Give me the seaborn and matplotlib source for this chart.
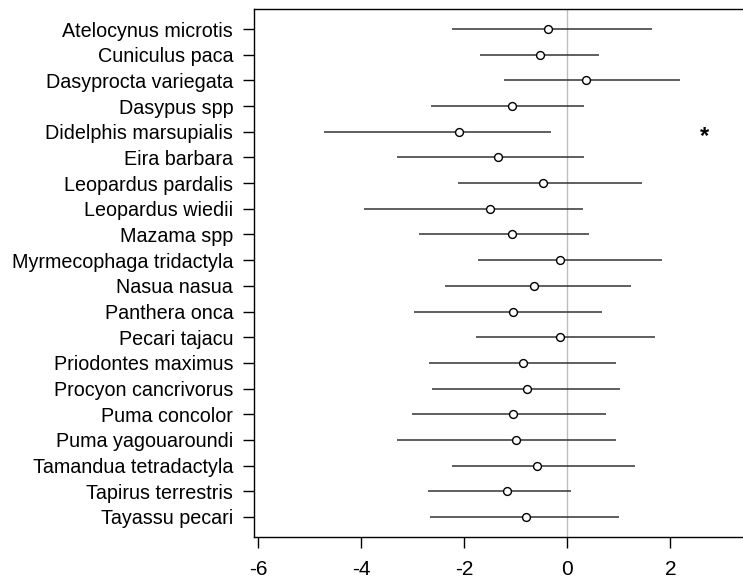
import matplotlib
matplotlib.use("Agg")
import matplotlib.pyplot as plt
import numpy as np
import pandas as pd
import seaborn as sns

species = [
    "Atelocynus microtis", "Cuniculus paca", "Dasyprocta variegata", "Dasypus spp",
    "Didelphis marsupialis", "Eira barbara", "Leopardus pardalis", "Leopardus wiedii",
    "Mazama spp", "Myrmecophaga tridactyla", "Nasua nasua", "Panthera onca",
    "Pecari tajacu", "Priodontes maximus", "Procyon cancrivorus", "Puma concolor",
    "Puma yagouaroundi", "Tamandua tetradactyla", "Tapirus terrestris", "Tayassu pecari",
]
estimate = [-0.38, -0.53, 0.36, -1.07, -2.10, -1.34, -0.48, -1.49, -1.07, -0.14,
            -0.65, -1.06, -0.15, -0.85, -0.79, -1.05, -1.00, -0.58, -1.17, -0.81]
lower = [-2.23, -1.69, -1.23, -2.65, -4.72, -3.30, -2.12, -3.95, -2.87, -1.73,
         -2.37, -2.98, -1.78, -2.68, -2.63, -3.02, -3.31, -2.23, -2.70, -2.66]
upper = [1.64, 0.62, 2.19, 0.33, -0.31, 0.32, 1.46, 0.31, 0.42, 1.83,
         1.24, 0.67, 1.70, 0.95, 1.03, 0.75, 0.95, 1.31, 0.07, 1.00]
significant = ["Didelphis marsupialis"]
star_x = 2.67

df = pd.DataFrame({"species": species, "est": estimate, "lo": lower, "hi": upper})
df["pos"] = np.arange(len(df))

sns.set_style("ticks")
plt.rcParams["font.family"] = ["Liberation Sans", "DejaVu Sans"]

fig = plt.figure(figsize=(7.43, 5.8), dpi=100)
ax = fig.add_axes([254 / 743, 1 - 536.7 / 580, (745 - 254) / 743, (536.7 - 9.3) / 580])

ax.axvline(0, color="#bebebe", lw=1, zorder=1)
ax.hlines(df["pos"], df["lo"], df["hi"], color="#333333", lw=1.1, zorder=2)
sns.scatterplot(data=df, x="est", y="pos", ax=ax, marker="o", s=32,
                facecolor="white", edgecolor="black", linewidth=1.0, zorder=3)

# asterisk for significant effects
for name in significant:
    i = species.index(name)
    ax.text(star_x, i + 0.2, "*", ha="center", va="center", fontsize=17,
            fontweight="bold", color="black")

ax.set_xlim(-6.08, 3.45)
ax.set_ylim(len(df) - 1 + 0.77, -0.77)
ax.set_yticks(df["pos"])
ax.set_yticklabels(species)
ax.set_xticks([-6, -4, -2, 0, 2])
ax.set_xticklabels(["-6", "-4", "-2", "0", "2"])
ax.set_xlabel("")
ax.set_ylabel("")
ax.tick_params(axis="both", length=8, width=1, color="black", labelcolor="black")
ax.tick_params(axis="y", labelsize=14.2, pad=7)
ax.tick_params(axis="x", labelsize=15, pad=9)
for sp in ax.spines.values():
    sp.set_color("black")
    sp.set_linewidth(1)

fig.savefig("out.png", dpi=100)
